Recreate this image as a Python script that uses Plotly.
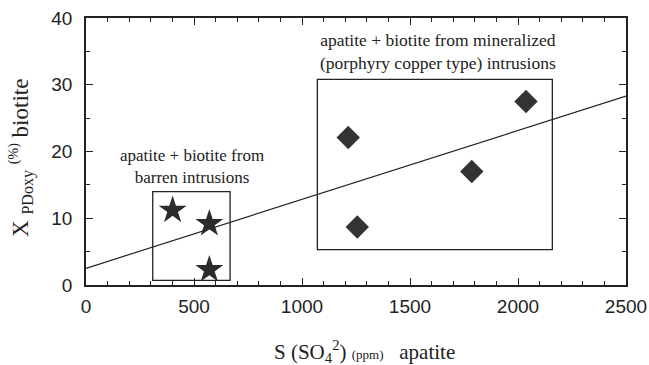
import plotly.graph_objects as go

# Data
barren_x = [401, 571, 571]
barren_y = [11.2, 9.2, 2.3]
mineral_x = [1214, 1256, 1786, 2037]
mineral_y = [22.1, 8.7, 17.0, 27.5]
fit_x = [0, 2500]
fit_y = [2.5, 28.3]
barren_box = dict(x0=309, x1=667, y0=0.7, y1=14.0)
mineral_box = dict(x0=1071, x1=2159, y0=5.3, y1=30.8)
x_ticks = [0, 500, 1000, 1500, 2000, 2500]
y_ticks = [0, 10, 20, 30, 40]

serif = "Liberation Serif"
sans = "Liberation Sans"

W, H = 649, 365
L, R, T, B = 86, 23, 17.5, 79.5
pw, ph = W - L - R, H - T - B

fig = go.Figure()
fig.add_trace(go.Scatter(x=fit_x, y=fit_y, mode="lines",
                         line=dict(color="#222", width=1.2), showlegend=False))
fig.add_trace(go.Scatter(x=barren_x, y=barren_y, mode="markers",
                         marker=dict(symbol="star", size=21, color="#2b2b2b",
                                     line=dict(width=0)), showlegend=False))
fig.add_trace(go.Scatter(x=mineral_x, y=mineral_y, mode="markers",
                         marker=dict(symbol="diamond", size=18, color="#333",
                                     line=dict(width=0)), showlegend=False))

for b in (barren_box, mineral_box):
    fig.add_shape(type="rect", xref="x", yref="y", **b,
                  line=dict(color="#222", width=1.3), fillcolor="rgba(0,0,0,0)")

fig.add_annotation(x=490, y=17.8, xref="x", yref="y", showarrow=False,
                   text="apatite + biotite from<br>barren intrusions",
                   font=dict(family=serif, size=17, color="#222"),
                   xanchor="center", yanchor="middle")
fig.add_annotation(x=1630, y=35.0, xref="x", yref="y", showarrow=False,
                   text="apatite + biotite from mineralized<br>(porphyry copper type) intrusions",
                   font=dict(family=serif, size=17.5, color="#222"),
                   xanchor="center", yanchor="middle")

# axis titles placed by pixel position converted to paper coordinates
fig.add_annotation(x=(364 - L) / pw, y=(H - 352 - B) / ph, xref="paper", yref="paper",
                   showarrow=False, xanchor="center", yanchor="middle",
                   text="S (SO<sub>4</sub><sup>2</sup>) <span style='font-size:13px'>(ppm)</span>   apatite",
                   font=dict(family=serif, size=21, color="#222"))
fig.add_annotation(x=(21 - L) / pw, y=(H - 158 - B) / ph, xref="paper", yref="paper",
                   showarrow=False, textangle=-90, xanchor="center", yanchor="middle",
                   text="X <sub>PDoxy</sub> <sup><span style='font-size:14px'>(%)</span></sup> biotite",
                   font=dict(family=serif, size=23, color="#222"))

axis_common = dict(showgrid=False, zeroline=False, showline=True, linecolor="#222",
                   linewidth=1.6, mirror="allticks", ticks="inside", ticklen=7,
                   tickwidth=1, tickcolor="#222", automargin=False,
                   tickfont=dict(family=sans, size=19, color="#222"))
fig.update_xaxes(range=[0, 2500], tickvals=x_ticks, ticklabelstandoff=3,
                 minor=dict(dtick=100, ticks="inside", ticklen=4, tickcolor="#222"),
                 **axis_common)
fig.update_yaxes(range=[0, 40], tickvals=y_ticks, ticklabelstandoff=8,
                 minor=dict(dtick=5, ticks="inside", ticklen=4, tickcolor="#222"),
                 **axis_common)

fig.update_layout(width=W, height=H, margin=dict(l=L, r=R, t=T, b=B, autoexpand=False),
                  plot_bgcolor="white", paper_bgcolor="white")
fig.write_html("out.html")
